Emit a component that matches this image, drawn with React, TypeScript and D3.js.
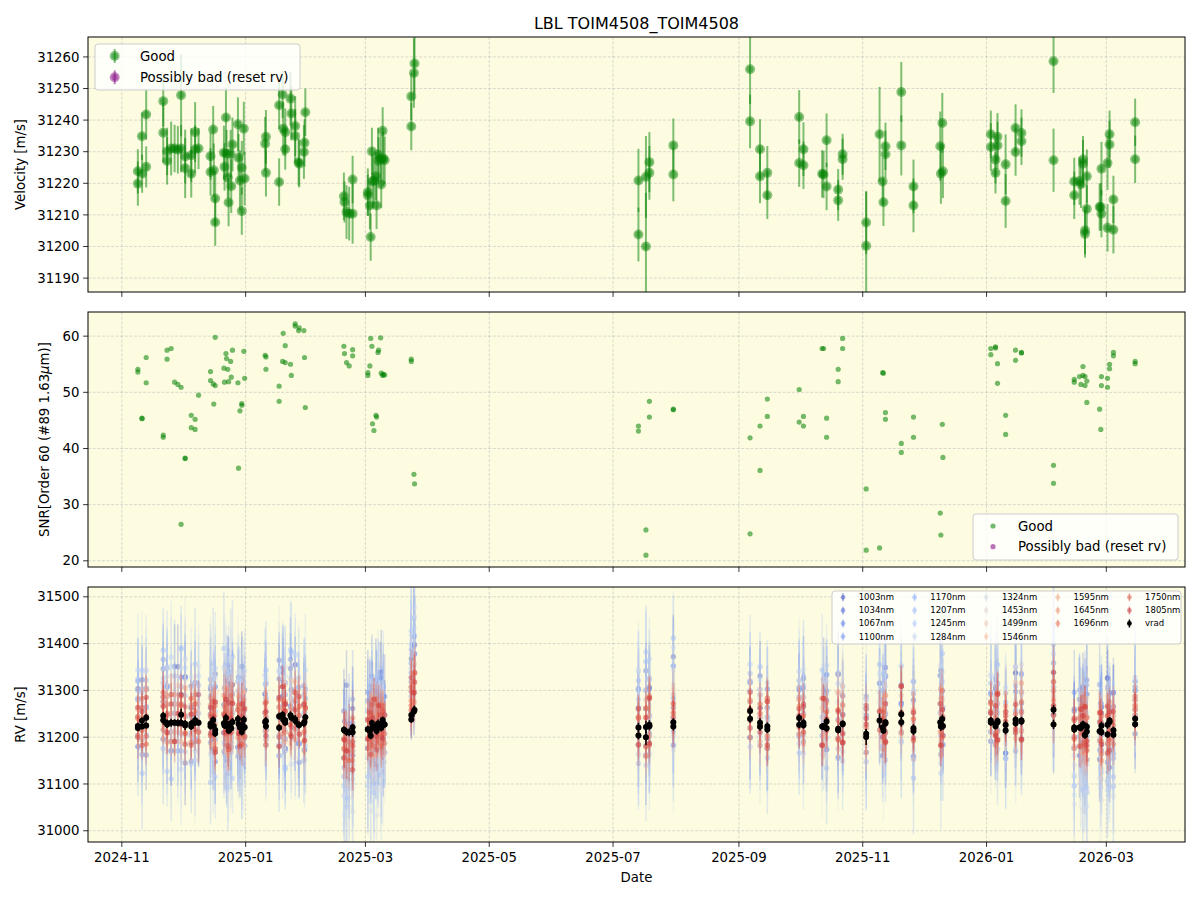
import React, { useEffect, useRef } from 'react';
import * as d3 from 'd3';

// Epochs (MJD), LBL velocity, its error and the order-60 SNR
const MJD = [
  60622.9, 60622.9, 60624.9, 60625.0, 60627.0, 60627.0,
  60635.4, 60635.4, 60637.3, 60637.3, 60639.3, 60641.0, 60642.6, 60644.2, 60644.2, 60646.2, 60646.2, 60649.2, 60649.2, 60651.1, 60651.1, 60652.8,
  60658.7, 60658.7, 60660.0, 60660.3, 60661.0, 60661.0, 60665.3, 60665.6, 60666.3, 60666.6, 60667.2, 60667.6, 60668.6, 60668.9, 60669.5, 60672.2, 60672.5, 60673.2, 60674.1, 60674.1, 60675.1, 60675.5,
  60685.6, 60686.0, 60686.0, 60692.5, 60692.5, 60694.2, 60694.5, 60695.5, 60695.5, 60698.1, 60698.5, 60700.4, 60700.4, 60702.1, 60702.4, 60704.7, 60705.0, 60705.4,
  60724.4, 60724.7, 60725.7, 60727.0, 60728.7, 60728.7,
  60736.2, 60736.2, 60737.2, 60737.6, 60738.2, 60738.5, 60739.2, 60740.2, 60740.5, 60741.2, 60741.5, 60742.5, 60742.8, 60743.5, 60743.8, 60744.5,
  60757.6, 60757.6, 60758.9, 60759.2,
  60869.5, 60869.5, 60873.2, 60873.2, 60874.9, 60874.9, 60886.7, 60886.7,
  60924.5, 60924.5, 60929.4, 60929.4, 60933.0, 60933.0,
  60948.7, 60948.7, 60950.8, 60950.8, 60960.0, 60960.7, 60962.2, 60962.2, 60967.9, 60967.9, 60970.1, 60970.1, 60981.7, 60981.7,
  60988.3, 60989.8, 60990.2, 60991.2, 60991.2, 60999.0, 60999.0, 61005.0, 61005.0, 61018.2, 61018.5, 61019.2, 61019.5,
  61043.1, 61043.1, 61045.4, 61045.4, 61046.4, 61046.4, 61050.4, 61050.4, 61055.3, 61055.3, 61058.2, 61058.2,
  61074.0, 61074.0,
  61084.2, 61084.2, 61086.8, 61087.5, 61088.5, 61088.5, 61089.5, 61089.5, 61090.4, 61090.4, 61096.7, 61097.3, 61097.6, 61097.6, 61100.6, 61100.6, 61101.6, 61101.6, 61103.5, 61103.5,
  61114.2, 61114.2,
];

const VEL = [
  31223.8, 31219.9, 31234.9, 31223.0, 31241.8, 31225.2,
  31246.0, 31236.0, 31230.1, 31227.1, 31231.0, 31231.0, 31230.6, 31247.9, 31231.0, 31228.5, 31224.8, 31223.0, 31228.9, 31236.2, 31230.8, 31231.0,
  31228.6, 31223.6, 31237.0, 31224.1, 31215.2, 31207.7, 31229.7, 31225.2, 31240.8, 31229.4, 31221.8, 31213.9, 31229.4, 31219.1, 31232.3, 31238.7, 31228.1, 31220.9, 31224.9, 31211.2, 31237.3, 31221.5,
  31232.5, 31234.7, 31223.3, 31244.7, 31220.4, 31248.1, 31237.3, 31236.2, 31230.8, 31246.8, 31242.1, 31238.1, 31235.0, 31226.7, 31226.2, 31229.9, 31232.8, 31242.5,
  31215.9, 31214.1, 31210.9, 31210.4, 31210.4, 31221.2,
  31217.2, 31216.2, 31213.0, 31203.0, 31230.1, 31220.6, 31220.9, 31222.2, 31213.0, 31229.1, 31227.1, 31227.8, 31219.6, 31236.6, 31227.8, 31227.3,
  31238.0, 31247.5, 31254.9, 31257.9,
  31220.9, 31203.8, 31222.0, 31200.0, 31226.7, 31223.3, 31232.0, 31222.8,
  31256.1, 31239.6, 31230.8, 31222.2, 31223.3, 31216.2,
  31241.0, 31226.4, 31230.8, 31225.7, 31223.0, 31222.8, 31233.6, 31219.0, 31218.0, 31214.6, 31229.2, 31227.6, 31207.6, 31200.2,
  31235.5, 31220.6, 31214.0, 31231.7, 31229.2, 31248.9, 31232.0, 31219.0, 31213.0, 31231.7, 31223.0, 31239.1, 31223.8,
  31235.5, 31231.5, 31227.5, 31223.3, 31234.7, 31232.0, 31226.0, 31214.4, 31237.5, 31229.9, 31235.9, 31233.3,
  31258.6, 31227.3,
  31220.6, 31216.2, 31220.7, 31219.7, 31227.5, 31226.2, 31205.1, 31204.0, 31222.2, 31211.9, 31212.5, 31212.5, 31210.4, 31224.6, 31226.4, 31205.9, 31235.5, 31232.3, 31214.9, 31205.3,
  31239.3, 31227.6,
];

const VEL_ERR = [
  7, 7, 7.5, 6, 8, 6.5,
  8, 9.5, 7.5, 7.5, 8.5, 7.5, 7.5, 13, 7.5, 8.5, 9.5, 7.5, 8.5, 9.5, 7.5, 6.5,
  7.5, 7.5, 7.5, 8.5, 8.5, 7.5, 8.5, 7.5, 9.5, 7.5, 6.5, 7.5, 7.5, 8.5, 8.5, 8.5, 7.5, 9.5, 8.5, 7.5, 8.5, 8.5,
  8.5, 8.5, 7.5, 7.5, 7.5, 7.5, 8.5, 7.5, 6.5, 8.5, 8.5, 9.5, 8.5, 7.5, 7.5, 8.5, 7.5, 7.5,
  7.5, 6.5, 8.5, 8.5, 9.5, 7.5,
  7.5, 6.5, 7.5, 7.5, 7.5, 8.5, 7.5, 7.5, 7.5, 8.5, 7.5, 7.5, 7.5, 7.5, 8.5, 7.5,
  7.5, 7.5, 11, 9.5,
  10, 8.5, 13, 17, 9.5, 8.5, 8.5, 8.5,
  11, 8.5, 9.5, 8.5, 8.5, 7.5,
  8.5, 7.5, 8.5, 7.5, 7.5, 7.5, 8.5, 7.5, 6.5, 6.5, 6.5, 6.5, 10, 17,
  15, 7.5, 7.5, 7.5, 7.5, 9.5, 9.5, 8.5, 8.5, 11, 9.5, 9.5, 8.5,
  7.5, 7.5, 7.5, 6.5, 7.5, 7.5, 9.5, 8.5, 7.5, 7.5, 7.5, 7.5,
  10, 10,
  7.5, 7.5, 7.5, 7.5, 7.5, 7.5, 7.5, 7.5, 8.5, 7.5, 7.5, 7.5, 7.5, 8.5, 8.5, 7.5, 7.5, 7.5, 7.5, 7.5,
  7.5, 7.5,
];

const SNR = [
  54.1, 53.6, 45.4, 45.3, 56.2, 51.7,
  42.4, 42.0, 57.5, 55.9, 57.8, 51.8, 51.4, 50.9, 26.5, 38.2, 38.3, 43.7, 45.9, 43.4, 45.2, 49.5,
  53.7, 52.1, 51.5, 47.9, 59.8, 51.2, 54.3, 51.8, 56.9, 56.0, 54.1, 51.9, 55.5, 52.7, 57.5, 51.7, 36.5, 46.7, 48.0, 47.7, 57.3, 52.5,
  56.6, 56.3, 54.1, 51.1, 48.4, 55.5, 60.5, 58.3, 55.3, 55.0, 53.0, 61.8, 62.2, 61.0, 61.5, 61.0, 56.2, 47.3,
  58.2, 56.9, 55.3, 54.7, 57.6, 56.5,
  53.5, 53.0, 54.7, 59.6, 58.2, 44.4, 43.2, 45.9, 45.6, 57.1, 57.5, 59.7, 53.4, 53.0, 53.2, 53.1,
  55.9, 55.5, 35.4, 33.7,
  44.0, 43.1, 25.5, 21.0, 48.4, 45.6, 46.9, 47.0,
  41.9, 24.8, 44.0, 36.1, 48.8, 45.7,
  50.5, 44.7, 45.7, 44.0, 57.8, 57.8, 45.4, 42.0, 54.1, 51.9, 59.6, 57.8, 32.8, 21.9,
  22.3, 53.5, 53.4, 46.4, 45.2, 40.9, 39.3, 45.6, 42.0, 28.5, 24.6, 44.3, 38.4,
  57.8, 56.7, 58.1, 57.9, 55.1, 51.6, 45.9, 42.5, 57.5, 55.7, 57.1, 57.0,
  37.0, 33.8,
  52.3, 51.8, 52.8, 51.4, 54.6, 53.0, 51.2, 52.8, 48.2, 52.0, 47.0, 43.4, 52.8, 51.2, 52.5, 50.9, 55.0, 54.2, 57.1, 56.5,
  55.5, 55.1,
];

const BANDS = [
  '1003nm', '1034nm', '1067nm', '1100nm', '1170nm', '1207nm', '1245nm', '1284nm', '1324nm',
  '1453nm', '1499nm', '1546nm', '1595nm', '1645nm', '1696nm', '1750nm', '1805nm',
];

// Per-band RV relative to vrad, one letter per epoch: 'M' = 0, 20 m/s per letter
const BAND_DV = [
  'QKNJPM ROKQJNSLPMIOQKNL NQJLSKOMIPNRKMQJOLNTKM PLNQKORJMNPLSKNOJM JNHLKO NKPJMQLINOKRMJPN QSOT OLSKQMTN PKRNOL NQKOMRJPLSNKOM QJNLSKOPMRJNL OKNQLPJMRNKO QN LOJNKPIMLQJONKRLHNMP PL',
  'LPMRIO OKQNJSMLPRKNIQOM MRKNPJLQOIMTNKPLRJNOKQ PNKSLMQJORNLPKIQMN OKRIMJ MQKNPLJRNKOMSLIP RPUS NRKPLQMO LQMONK PLNRKOJQMSLNKP MPKRNLQJOMSNK NLQKPMJORLNK RM OKPMIQNLRJMPKOLSNJQM NQ',
  'NRLOKQ SKNPLOJQMRNLOKPM KONQLRJMPNSKOLQIMNRKPL NQLOJRMKPSNLOQKMJP LIMKNJ PLOKRMJNQLPKNOJM SOTQ MPJRNLSK OLPKQM KPMQLNROJMPKQN NLPKRMOJQNLPM MPKOQLNJPMRL PN MQLOKNJPMLRKNOIPLMQK OM',
  'PMKQNL NQLSKOMPJRNOLQKN QLMOKRNJPLSMKONQJLPMNK LOPKNRMQJNOLSPKMNO MKJNLP KONLQJMPRNKOLMQJ PTRS QMONKRLP NPLQMK QNLPKORMNJQLPO LQMOKPNRJMQLO PNLRKOMQNJPM OQ NKQMOLPJNRKMOLQNKPJO QN',
  'RKPHQN TJOQGRMKUPLINSKQ PGSLOJUKNQHRMPTJLOIQNK QKSNJPRHOMTLKQNIPO HKFJLI NHQKOLGPMJRNHKPL UQWS RJTLPKVN QKSMOJ PJRLNQHOSKMPJQ SKPIRNLQHOMTK QLOKSNJPMQKR TN LGOJNHPKFMLIONGKJMHP QN',
  'OQJSLN QLSHPNKTOJRMLQIP NRKPHTLOMJQSKNGPRLOJQM RLPJSNKQHTMOLRKPNJ GJEKHL KGOJMNFRLIPKHNQJ SVQU PLUJRNSK RJOLQN OKQMSJPLNRIOKP QJSNLPKRMOHQN PKRNJQMOLSKN VO KHNILFOJMGNKPHLJNIGO PM',
  'SLOKRM PKRJTNLOHSMQKPJR LPIQNSKMRJOGTLPNKQIOMS OKRMPJSLNQHOTKMPJR IFKGJH LJNFPKHOMIQLGMOK TRVQ SKQMTJPL NQKPLR RLOJPNSKMQJONL PKQMOJSLNRIPM NRLPKOQJMSLP SP JGMKFNHLIOKGMJHNLFKN OR',
  'NPKQLS RJQMSKOPITNLRKQO QJOKRMSLPHNQJTOKMRLPIN MQKOSLPJRNKTMQLOIP HDJFIG MHKGOLJNFQIMKHNL VRSX QNSKRLUM PLNRKO MQKSLOJRNPKQMO RLOKQNSJPMKRL OMQKNRLPJOSM UQ IFLHNJGMKEOIHLFNJKGM QO',
  'OLRJNP LQNSJPKROMTLNQIS ORLNJQMSKPIOTLNRJMQKOP NPLRJQMOSKNPIRLMQK FCHEGD JGLEMIHKDOJFLGNI SUQW OTLQNRJS MOKQNP QLNPJRMOKSLNPQ NPJRLOMQKSNLP RLNPJQKOMSLN RO HEKGMDJLFNHIKEGMIJFL NP',
  'NLOKMP MOKNLPMJONLQMKON LNMPKOJNMQLNKOMPLNJOMN OLNMPKNQLMOJNPLMKO KLJMKI MKNLOJMPKNLMJNOL OQPN NKPLOMQN MOLNPK NLOMKPNJOMLQNM OMLNPKMOJNLPM MONLPKNMOLQN PM LNKOMJNLPKMNLJOMKNLO NM',
  'MOLNKP NLPMKONMLQNKMPLO OKNMQLMPJNOLMKPNOLMQKN LNPKOMLNQJMOLNPKMN LJKIMK NLMKPLJOMNKLONMJ PONR MOKQNLPM NLPMOK OMKNPLMONKQMLN LNPMKOLNQMJON NLPMKONQLMOK OQ MKOLNJPMKLONMIPLNKMO MO',
  'OMNLPK LPNKOMQLNMKPONLM NMOKPLNQMJOLNPMKOMLNPK MOKNPLMONKQLMNOJPM JLKMIL LMOKNJPLMKNOLMKN QNPO NLOMPKNQ OMKNLP MNLPOKMNQLKOMN NOKMPLNMOKQLN OMKNPLMOQNKL NP KNMOJLPNKMOLJNMPKLNO ON',
  'NOLMPK OKMPNLONKMQLNOMK MPLNKOMNPLJOMNQKLOMNPL NKOMPLNOKMNQLMPKON KMJLKJ MNKOLMPJNLMOKNLM ONQP OMNKPLON MNOKPL NOMKPLNMOQKLNM MNLOKPMNOLQKM NMOKPLNMKOPL PO NLMKOPLMNJOKMNLPMKON NO',
  'MNKOLN NMOLPKNOMLNPKMOL OLNMPKNOLMQKNMOLPNKMOL MONLKPMNOLMPKNOMLN LKMJLK NLMONKPMLNOKMNOL NPOQ NLOKPMNO LONMKP MOLNPKMNOLMPKN NMOLPKNOMLPKN MOLNKPMOLNQM ON MKNOLMPKNLOMJNKOLMNP MN',
  'LNMOKN MOLNKPMONLMOKNPL NLMOKNPMLONKMPLNOMKNLO OLMNPKONLMKOPNLMON KLMKJM LMNOKLMNPKMLONMK OPNQ MONLPKMN NKOMLP OLMNKPOMLNOKMP LONMKPNMLOKNM NOLMKPONMLOK NO LMNKOLPMNKLOMJNKOLMN OM',
  'NMLPMK OLNMPKMNOLKPNMOK MNOLKPNMOLNKPMONLMKPNL NOKMLPNMOKLNPMOLKN LMKJLN MKNLOMKPNLMOKNLM PNOQ NMOLKPNM OLNMPK NMLOKPNMOLKNPM MNOKLPMNLOKPM ONMLPKNOMLKN PN NLMOKNPLMKONLMJOKNML NO',
  'OLNKMP NPLMOKNLPMOKNLMP LOMNPKLNOMKPLNOMLKNPMO MNLOKPMNOLKNMPLOKM JLKMIK NLOKMNPLKMONLKMN NQOP OLNMKPOM MNLOKP LNOMKPLNMOKLNO NLMOKPNLOMKNL MNOLKPMNLOKM QO MNKOLNPMKLNOMKLPNJOM MP',
];

// Per-band RV uncertainty, one digit per epoch, 15 m/s per unit
const BAND_ERR = [
  '455465 4564546554645645 5465446556454654465546 546545565465454655 564656 4565546545655465 7667 56476565 565465 45654655465456 5465746556465 455465564545 76 54655465746556465546 55',
  '546554 5465564546554656 4655465546545665465545 655465546545665465 655746 5646554656546556 6776 65576546 456556 54665465546545 6546557465654 546556465545 67 45665546556475465645 56',
  '564545 5546455465546545 5465546545565465546545 465546554656454655 746565 6545655465546554 7687 56465576 654565 56546554665465 4655646557465 654565546556 76 56465547656546556454 65',
  '455654 6545564655465546 4655645546556465546554 556465546556454665 656757 5465546554655465 6778 65567465 546556 65465546554656 5546654656547 465565546554 67 65546556465574655465 56',
  '675867 6857687568576856 7685768576857685768576 857685768576857686 879687 6857687568576857 8998 76858768 685768 76857685768576 8576857685768 768576857685 98 67857685768576857685 76',
  '768576 7685768576857685 6857685768576857685768 576857685768576857 798879 7685768576857685 9889 87685768 768576 85768576857685 7685768576857 857685768576 89 76857685768576857685 67',
  '857685 8576857685768576 7685768576857685768576 685768576857685768 889798 8576857685768576 8998 68576857 857685 67685768576857 6857685768576 685768576857 98 85768576857685768576 78',
  '768576 7685768576857685 8576857685768576857685 768576857685768576 979889 6857685768576857 9899 76857685 768576 85768576857685 7685768576857 857685768576 89 67685768576857685768 87',
  '879687 8796879687968796 7968796879687968796879 687968796879687968 989989 8796879687968796 9999 87968796 879687 96879687968796 8796879687968 796879687968 99 87968796879687968796 98',
  '343435 4343543435434354 3435434354343543435434 354343543435434354 454545 4354343543435434 4554 34354343 435434 35434354343543 4354343543435 343543435434 54 43543435434354343543 34',
  '323423 3234232342323423 4232342323423234232342 232342323423234232 343434 3423234232342323 3443 23423234 342323 42323423234232 3234232342323 234232342323 43 32342323423234232342 23',
  '233233 2332332332332332 3323323323323323323323 332332332332332332 343343 2332332332332332 3443 33233233 233233 23323323323323 3233233233233 323323323323 34 23323323323323323323 32',
  '323323 3233233233233233 2332332332332332332332 233233233233233233 334334 3233233233233233 4334 23323323 323323 32332332332332 2332332332332 332332332332 43 32332332332332332332 23',
  '332332 3323323323323323 3233233233233233233233 323323323323323323 433433 3323323323323323 3443 32332332 332332 33233233233233 3233233233233 233233233233 34 33233233233233233233 32',
  '233223 2332232332232332 3223323322332232332232 223322332232332232 343343 2332232332232332 3434 32233223 233223 22332232332232 3223323322332 232332232332 43 22332232332232332232 23',
  '323332 3233323233323233 3323233323233323233323 233323233323233323 434344 3233323233323233 4343 33323233 323332 33323233323233 2333232333232 333232333232 34 33323233323233323233 32',
  '333233 3332333233323332 3233323332333233323332 332333233323332333 344434 3332333233323332 4434 23332333 333233 32333233323332 3332333233323 233323332333 43 33323332333233323332 33',
];

const W = 1200;
const H = 900;
const LEFT = 88;
const RIGHT = 1185;
const PANELS = [
  { top: 37, bottom: 292, domain: [31185.6, 31266.3], ticks: d3.range(31190, 31261, 10) },
  { top: 312, bottom: 567, domain: [18.9, 64.3], ticks: d3.range(20, 61, 10) },
  { top: 587, bottom: 842, domain: [30976, 31521], ticks: d3.range(31000, 31501, 100) },
];
const BG = '#fdfce1';
const GREEN = '#008000';
const PURPLE = '#800080';
const FONT = 'DejaVu Sans, sans-serif';
const DV_STEP = 20;
const ERR_STEP = 15;

const mjdToDate = (m: number) => new Date(Date.UTC(1858, 10, 17) + m * 86400000);

const coolwarm = d3.piecewise(d3.interpolateRgb, [
  '#3b4cc0', '#6282ea', '#8db0fe', '#b8d0f9', '#dddddd', '#f5c4ac', '#f49a7b', '#de604d', '#b40426',
]);
const bandColor = (i: number) => coolwarm(i / BANDS.length);

const decode = (s: string) => s.replace(/\s+/g, '');

export default function App() {
  const ref = useRef<SVGSVGElement>(null);

  useEffect(() => {
    if (!ref.current) return;
    const svg = d3.select(ref.current);
    svg.selectAll('*').remove();

    svg.append('rect').attr('width', W).attr('height', H).attr('fill', 'white');

    const [t0, t1] = d3.extent(MJD) as [number, number];
    const pad = (t1 - t0) * 0.05;
    const x = d3.scaleUtc().domain([mjdToDate(t0 - pad), mjdToDate(t1 + pad)]).range([LEFT, RIGHT]);
    const xTicks = x.ticks(d3.utcMonth.every(2) as d3.TimeInterval);
    const dates = MJD.map(mjdToDate);

    const defs = svg.append('defs');

    const panels = PANELS.map((p, i) => {
      const y = d3.scaleLinear().domain(p.domain).range([p.bottom, p.top]);
      const g = svg.append('g');
      g.append('rect')
        .attr('x', LEFT).attr('y', p.top).attr('width', RIGHT - LEFT).attr('height', p.bottom - p.top)
        .attr('fill', BG);

      defs.append('clipPath').attr('id', `clip${i}`)
        .append('rect').attr('x', LEFT).attr('y', p.top).attr('width', RIGHT - LEFT).attr('height', p.bottom - p.top);

      // dashed grid
      const grid = g.append('g').attr('stroke', '#b0b0b0').attr('stroke-opacity', 0.6)
        .attr('stroke-width', 0.8).attr('stroke-dasharray', '3,1.6');
      xTicks.forEach(t => {
        grid.append('line').attr('x1', x(t)).attr('x2', x(t)).attr('y1', p.top).attr('y2', p.bottom);
      });
      p.ticks.forEach(v => {
        grid.append('line').attr('x1', LEFT).attr('x2', RIGHT).attr('y1', y(v)).attr('y2', y(v));
      });

      const plot = svg.append('g').attr('clip-path', `url(#clip${i})`);
      return { y, plot, p };
    });

    // --- Velocity panel ---
    {
      const { y, plot } = panels[0];
      MJD.forEach((_, i) => {
        const cx = x(dates[i]);
        plot.append('line')
          .attr('x1', cx).attr('x2', cx)
          .attr('y1', y(VEL[i] - VEL_ERR[i])).attr('y2', y(VEL[i] + VEL_ERR[i]))
          .attr('stroke', GREEN).attr('stroke-opacity', 0.5).attr('stroke-width', 2);
        plot.append('circle').attr('cx', cx).attr('cy', y(VEL[i])).attr('r', 5)
          .attr('fill', GREEN).attr('fill-opacity', 0.45);
        plot.append('circle').attr('cx', cx).attr('cy', y(VEL[i])).attr('r', 3.3)
          .attr('fill', GREEN).attr('fill-opacity', 0.35);
      });
    }

    // --- SNR panel ---
    {
      const { y, plot } = panels[1];
      MJD.forEach((_, i) => {
        plot.append('circle').attr('cx', x(dates[i])).attr('cy', y(SNR[i])).attr('r', 2.6)
          .attr('fill', GREEN).attr('fill-opacity', 0.55);
      });
    }

    // --- per-band RV panel ---
    {
      const { y, plot } = panels[2];
      BANDS.forEach((_, b) => {
        const dv = decode(BAND_DV[b]);
        const er = decode(BAND_ERR[b]);
        const col = bandColor(b);
        const pts = MJD.map((_, i) => {
          if (i >= dv.length) return null;
          const v = VEL[i] + (dv.charCodeAt(i) - 77) * DV_STEP;
          const e = (+er[i] || 4) * ERR_STEP;
          return { cx: x(dates[i]), v, e };
        }).filter(Boolean) as { cx: number; v: number; e: number }[];
        const gb = plot.append('g');
        pts.forEach(d => {
          gb.append('line').attr('x1', d.cx).attr('x2', d.cx)
            .attr('y1', y(d.v - d.e)).attr('y2', y(d.v + d.e))
            .attr('stroke', col).attr('stroke-opacity', 0.25).attr('stroke-width', 1.5);
        });
        pts.forEach(d => {
          gb.append('circle').attr('cx', d.cx).attr('cy', y(d.v)).attr('r', 2.7)
            .attr('fill', col).attr('fill-opacity', 0.38);
        });
      });
      MJD.forEach((_, i) => {
        const cx = x(dates[i]);
        plot.append('line').attr('x1', cx).attr('x2', cx)
          .attr('y1', y(VEL[i] - VEL_ERR[i])).attr('y2', y(VEL[i] + VEL_ERR[i]))
          .attr('stroke', 'black').attr('stroke-width', 1.5);
        plot.append('circle').attr('cx', cx).attr('cy', y(VEL[i])).attr('r', 3).attr('fill', 'black');
      });
    }

    // spines, ticks and tick labels
    panels.forEach(({ y, p }, i) => {
      const g = svg.append('g');
      g.append('rect')
        .attr('x', LEFT).attr('y', p.top).attr('width', RIGHT - LEFT).attr('height', p.bottom - p.top)
        .attr('fill', 'none').attr('stroke', 'black').attr('stroke-width', 1);
      p.ticks.forEach(v => {
        g.append('line').attr('x1', LEFT - 4.9).attr('x2', LEFT).attr('y1', y(v)).attr('y2', y(v))
          .attr('stroke', 'black').attr('stroke-width', 0.8);
        g.append('text').attr('x', LEFT - 8.5).attr('y', y(v)).attr('dy', '0.35em')
          .attr('text-anchor', 'end').attr('font-family', FONT).attr('font-size', 13.3)
          .attr('fill', 'black').text(String(v));
      });
      xTicks.forEach(t => {
        g.append('line').attr('x1', x(t)).attr('x2', x(t)).attr('y1', p.bottom).attr('y2', p.bottom + 4.9)
          .attr('stroke', 'black').attr('stroke-width', 0.8);
        if (i === 2) {
          g.append('text').attr('x', x(t)).attr('y', p.bottom + 20)
            .attr('text-anchor', 'middle').attr('font-family', FONT).attr('font-size', 13.3)
            .attr('fill', 'black').text(d3.utcFormat('%Y-%m')(t));
        }
      });
    });

    // axis labels and title
    const yLabel = (cx: number, cy: number) =>
      svg.append('text').attr('transform', `translate(${cx},${cy}) rotate(-90)`)
        .attr('text-anchor', 'middle').attr('dy', '0.35em')
        .attr('font-family', FONT).attr('font-size', 13.3).attr('fill', 'black');
    yLabel(20.5, (PANELS[0].top + PANELS[0].bottom) / 2).text('Velocity [m/s]');
    const snrLabel = yLabel(44, (PANELS[1].top + PANELS[1].bottom) / 2);
    snrLabel.append('tspan').text('SNR[Order 60 (#89 1.63');
    snrLabel.append('tspan').attr('font-style', 'italic').text('μ');
    snrLabel.append('tspan').text('m)]');
    yLabel(20.5, (PANELS[2].top + PANELS[2].bottom) / 2).text('RV [m/s]');

    svg.append('text').attr('x', (LEFT + RIGHT) / 2).attr('y', 882)
      .attr('text-anchor', 'middle').attr('font-family', FONT).attr('font-size', 13.3).text('Date');
    svg.append('text').attr('x', (LEFT + RIGHT) / 2).attr('y', 29)
      .attr('text-anchor', 'middle').attr('font-family', FONT).attr('font-size', 16).text('LBL TOIM4508_TOIM4508');

    const legendBox = (bx: number, by: number, bw: number, bh: number) =>
      svg.append('rect').attr('x', bx).attr('y', by).attr('width', bw).attr('height', bh).attr('rx', 3)
        .attr('fill', 'white').attr('fill-opacity', 0.8).attr('stroke', '#cccccc').attr('stroke-width', 1);

    // velocity legend
    legendBox(95, 44, 205, 46);
    [['Good', GREEN], ['Possibly bad (reset rv)', PURPLE]].forEach(([label, col], k) => {
      const cy = 56 + k * 21.3;
      svg.append('line').attr('x1', 114.7).attr('x2', 114.7).attr('y1', cy - 7).attr('y2', cy + 7)
        .attr('stroke', col).attr('stroke-opacity', 0.5).attr('stroke-width', 2);
      svg.append('circle').attr('cx', 114.7).attr('cy', cy).attr('r', 5).attr('fill', col).attr('fill-opacity', 0.45);
      svg.append('circle').attr('cx', 114.7).attr('cy', cy).attr('r', 3.3).attr('fill', col).attr('fill-opacity', 0.35);
      svg.append('text').attr('x', 140).attr('y', cy).attr('dy', '0.35em')
        .attr('font-family', FONT).attr('font-size', 13.3).text(label);
    });

    // SNR legend
    legendBox(973, 514, 205, 46);
    [['Good', GREEN], ['Possibly bad (reset rv)', PURPLE]].forEach(([label, col], k) => {
      const cy = 526 + k * 20.7;
      svg.append('circle').attr('cx', 993).attr('cy', cy).attr('r', 2.6).attr('fill', col).attr('fill-opacity', 0.55);
      svg.append('text').attr('x', 1018).attr('y', cy).attr('dy', '0.35em')
        .attr('font-family', FONT).attr('font-size', 13.3).text(label);
    });

    // band legend, filled column by column (4,4,4,3,3)
    legendBox(832, 591, 349, 53);
    const entries = [...BANDS.map((b, i) => ({ label: b, col: bandColor(i), op: 0.5 })), { label: 'vrad', col: 'black', op: 1 }];
    const perCol = [4, 4, 4, 3, 3];
    let k = 0;
    perCol.forEach((n, c) => {
      for (let r = 0; r < n; r++, k++) {
        const e = entries[k];
        const mx = 843 + c * 71.6;
        const my = 597.3 + r * 13.1;
        svg.append('line').attr('x1', mx).attr('x2', mx).attr('y1', my - 4).attr('y2', my + 4)
          .attr('stroke', e.col).attr('stroke-opacity', e.op).attr('stroke-width', 1.5);
        svg.append('circle').attr('cx', mx).attr('cy', my).attr('r', 2.4).attr('fill', e.col).attr('fill-opacity', e.op);
        svg.append('text').attr('x', mx + 15.7).attr('y', my).attr('dy', '0.35em')
          .attr('font-family', FONT).attr('font-size', 8.5).text(e.label);
      }
    });
  }, []);

  return (
    <div style={{ position: 'absolute', left: 0, top: 0, width: W, height: H }}>
      <svg ref={ref} width={W} height={H} style={{ display: 'block' }} />
    </div>
  );
}
